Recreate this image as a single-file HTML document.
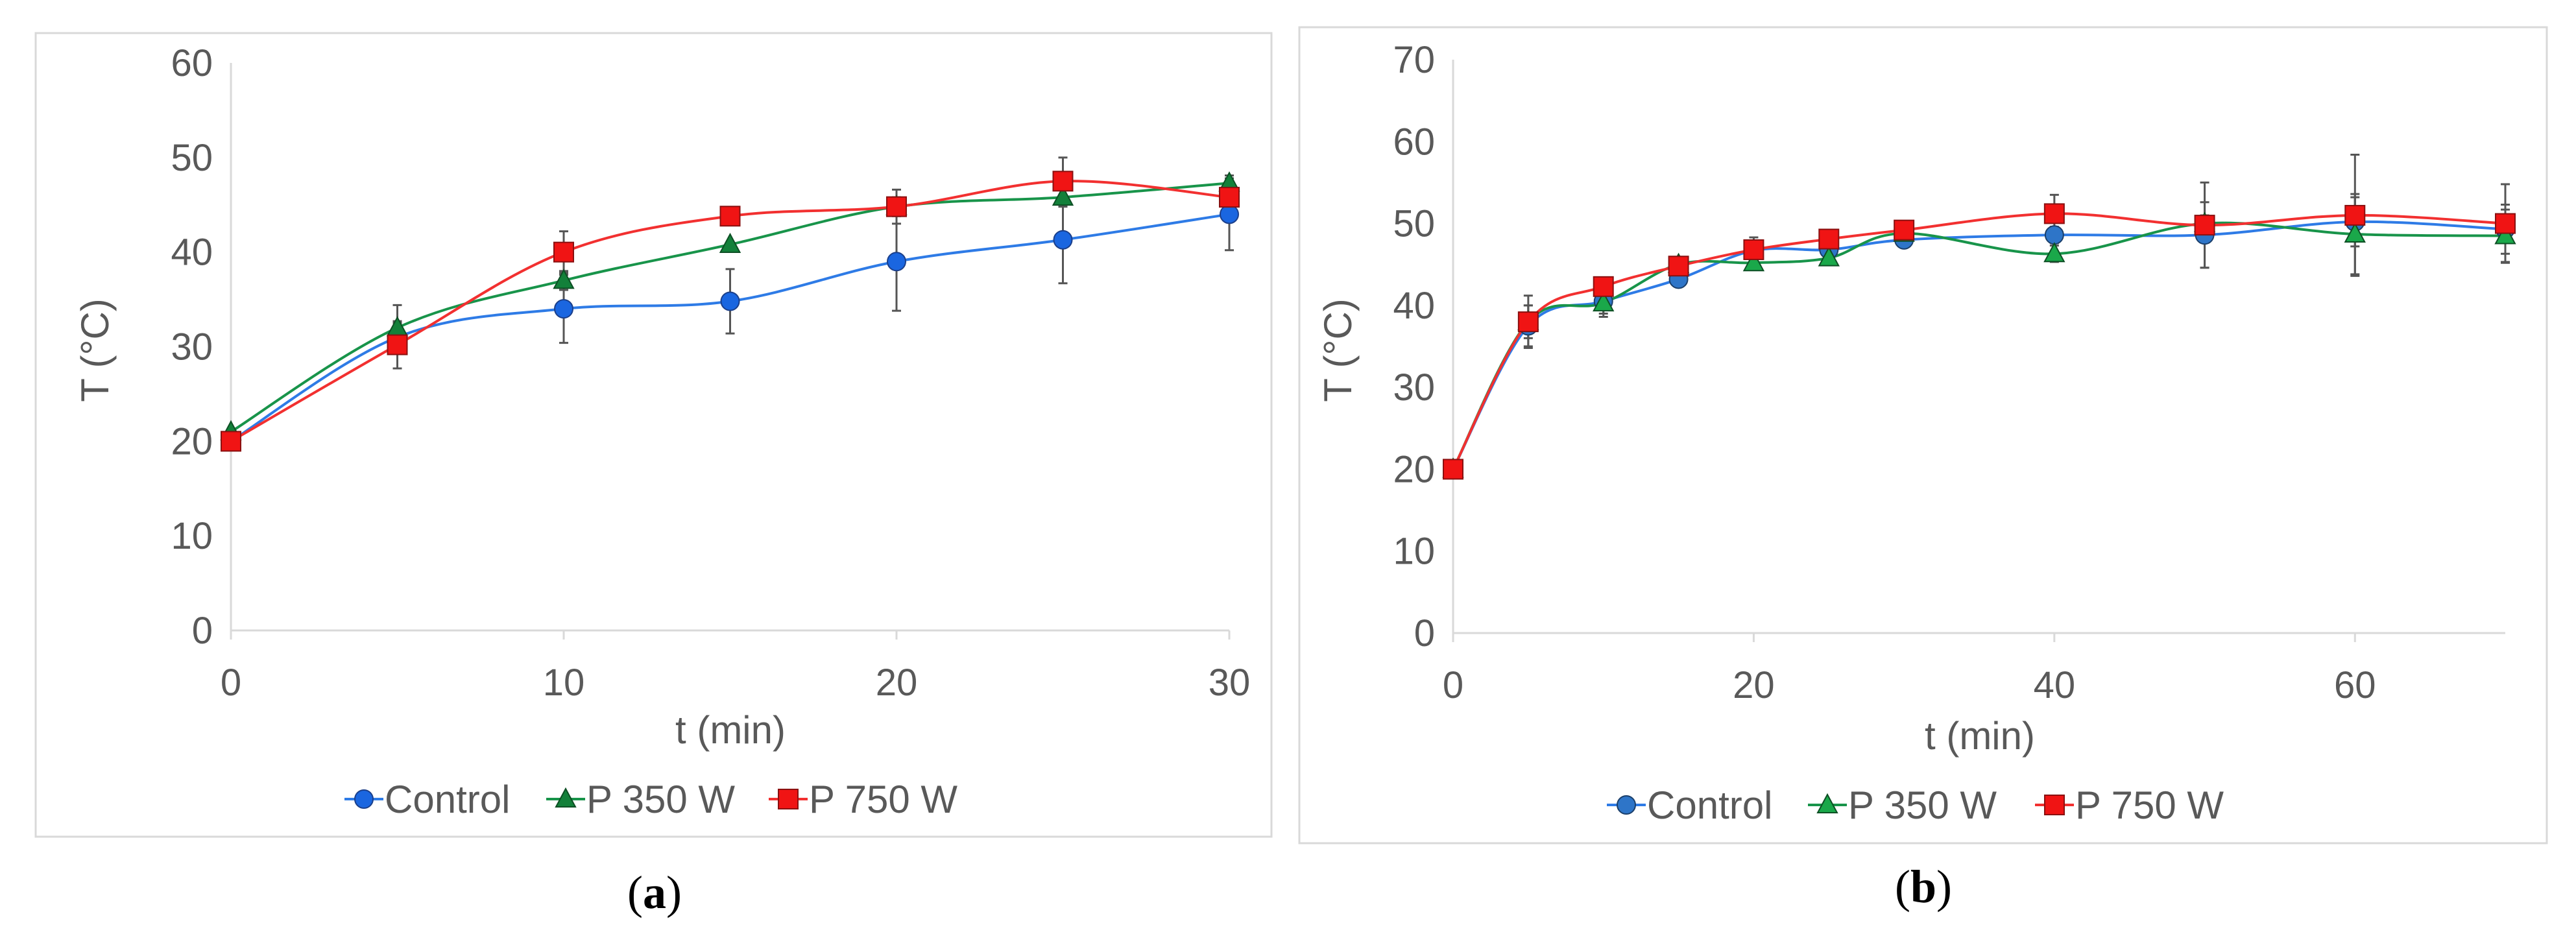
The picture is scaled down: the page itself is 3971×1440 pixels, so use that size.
<!DOCTYPE html>
<html><head><meta charset="utf-8"><style>
html,body{margin:0;padding:0;background:#fff;}
svg{display:block;font-family:"Liberation Sans",Arial,sans-serif;}
</style></head><body>
<svg id="fig" width="3971" height="1440" viewBox="0 0 3971 1440" xmlns="http://www.w3.org/2000/svg"></svg>
<script>
// ---- Panel (a) data ----
const timesA = [0,5,10,15,20,25,30];
const controlA = [20,31,34,34.8,39,41.3,44];
const p350A = [21,32,37,40.8,44.8,45.8,47.3];
const p750A = [20,30.2,40,43.8,44.8,47.5,45.8];
const errControlA = [0.5,1.5,3.6,3.4,5.2,4.6,3.8];
const errP350A = [0.5,2.4,1,0.5,1,1,0.8];
const errP750A = [0.5,2.5,2.2,0.5,1.8,2.5,0.8];
const yTicksA = [0,10,20,30,40,50,60];
const xTicksA = [0,10,20,30];
// ---- Panel (b) data ----
const timesB = [0,5,10,15,20,25,30,40,50,60,70];
const controlB = [20,37.5,40.5,43.2,46.7,46.8,48,48.6,48.6,50.2,49.3];
const p350B = [20,38,40.3,45,45.2,45.8,48.8,46.3,50,48.7,48.5];
const p750B = [20,38,42.3,44.8,46.8,48.1,49.2,51.2,49.8,51,50];
const errControlB = [0.3,2.5,1.5,0.8,1,1,0.7,1,4,3,3];
const errP350B = [0.3,2,1.7,0.8,0.8,0.8,0.6,1,1,4.9,3.2];
const errP750B = [0.3,3.2,0.8,0.8,1.5,1,0.6,2.3,5.2,7.4,4.8];
const yTicksB = [0,10,20,30,40,50,60,70];
const xTicksB = [0,20,40,60];

const NS="http://www.w3.org/2000/svg";
const svg=document.getElementById('fig');
function mk(tag,attrs,parent){const e=document.createElementNS(NS,tag);for(const k in attrs)e.setAttribute(k,attrs[k]);(parent||svg).appendChild(e);return e;}

function smoothPath(pts){
  let d=`M${pts[0][0]},${pts[0][1]}`;
  for(let i=0;i<pts.length-1;i++){
    const p0=pts[i-1]||pts[i],p1=pts[i],p2=pts[i+1],p3=pts[i+2]||p2;
    const t=0.17*1.0;
    const c1=[p1[0]+(p2[0]-p0[0])*t,p1[1]+(p2[1]-p0[1])*t];
    const c2=[p2[0]-(p3[0]-p1[0])*t,p2[1]-(p3[1]-p1[1])*t];
    d+=` C${c1[0]},${c1[1]} ${c2[0]},${c2[1]} ${p2[0]},${p2[1]}`;
  }
  return d;
}
function marker(g,type,x,y,fill,stroke,name){
  let m;
  if(type==='circle') m=mk('circle',{cx:x,cy:y,r:14,fill:fill,stroke:stroke,'stroke-width':2},g);
  else if(type==='tri') m=mk('polygon',{points:`${x},${y-16} ${x-15},${y+12} ${x+15},${y+12}`,fill:fill,stroke:stroke,'stroke-width':2},g);
  else m=mk('rect',{x:x-15,y:y-15,width:30,height:30,fill:fill,stroke:stroke,'stroke-width':2},g);
  
  
  return m;
}

function chart(cfg){
  const g=mk('g',{});
  
  
  const box=mk('rect',{x:cfg.box[0],y:cfg.box[1],width:cfg.box[2]-cfg.box[0],height:cfg.box[3]-cfg.box[1],fill:'#fff',stroke:'#d9d9d9','stroke-width':3},g);
  
  
  const xs=v=>cfg.x0+(v-0)/cfg.xmax*(cfg.x1-cfg.x0);
  const ys=v=>cfg.y0-(v/cfg.ymax)*(cfg.y0-cfg.y1);
  const ax=mk('line',{x1:cfg.x0,y1:cfg.y0,x2:cfg.x0,y2:cfg.y1,stroke:'#d9d9d9','stroke-width':3},g);
  
  
  const bx=mk('line',{x1:cfg.x0,y1:cfg.y0,x2:cfg.x1,y2:cfg.y0,stroke:'#d9d9d9','stroke-width':3},g);
  
  
  cfg.yTicks.forEach(v=>{
    const t=mk('text',{x:cfg.x0-28,y:ys(v)+20,'text-anchor':'end','font-size':58,fill:'#595959'},g);
    t.textContent=v;
    
    
  });
  cfg.xTicks.forEach(v=>{
    const tk=mk('line',{x1:xs(v),y1:cfg.y0,x2:xs(v),y2:cfg.y0+14,stroke:'#d9d9d9','stroke-width':3},g);
    
    
    const t=mk('text',{x:xs(v),y:cfg.y0+100,'text-anchor':'middle','font-size':58,fill:'#595959'},g);
    t.textContent=v;
    
    
  });
  const xt=mk('text',{x:cfg.xTitle[0],y:cfg.xTitle[1],'text-anchor':'middle','font-size':60,fill:'#595959'},g);
  xt.textContent='t (min)';
  
  
  const yt=mk('text',{x:0,y:0,'text-anchor':'middle','font-size':60,fill:'#595959',transform:`translate(${cfg.yTitle[0]},${cfg.yTitle[1]}) rotate(-90)`},g);
  yt.textContent='T (°C)';
  
  
  // error bars
  cfg.series.forEach(s=>{
    cfg.times.forEach((t,i)=>{
      const e=s.err[i]; if(e<0.6) return;
      const x=xs(t);
      const l=mk('path',{d:`M${x},${ys(s.vals[i]-e)}V${ys(s.vals[i]+e)}M${x-7},${ys(s.vals[i]-e)}h14M${x-7},${ys(s.vals[i]+e)}h14`,stroke:'#555','stroke-width':3,fill:'none'},g);
      
      
    });
  });
  cfg.series.forEach(s=>{
    const pts=cfg.times.map((t,i)=>[xs(t),ys(s.vals[i])]);
    const p=mk('path',{d:smoothPath(pts),stroke:s.line,'stroke-width':4,fill:'none'},g);
    
    
  });
  cfg.series.forEach(s=>{
    cfg.times.forEach((t,i)=>marker(g,s.type,xs(t),ys(s.vals[i]),s.fill,s.stroke,s.name+'-point'));
  });
  // legend
  cfg.series.forEach((s,i)=>{
    const lx=cfg.legend[i], ly=cfg.legendY;
    const lg=mk('g',{},g);
    
    
    mk('line',{x1:lx-30,y1:ly,x2:lx+30,y2:ly,stroke:s.line,'stroke-width':4},lg);
    marker(lg,s.type,lx,ly,s.fill,s.stroke,'legend-marker');
    const t=mk('text',{x:lx+32,y:ly+21,'font-size':60,fill:'#595959'},lg);
    t.textContent=s.label;
    
    
  });
  const cap=mk('text',{x:cfg.caption[0],y:cfg.caption[1]+25,'text-anchor':'middle','font-size':72,fill:'#000','font-family':'"Liberation Serif",serif'},g);
  cap.innerHTML='(<tspan font-weight="bold">'+cfg.capLetter+'</tspan>)';
  
  
}

chart({id:'chart-a',box:[55,51,1960,1290],x0:356,x1:1895,y0:972,y1:97,xmax:30,ymax:60,
  yTicks:yTicksA,xTicks:xTicksA,times:timesA,xTitle:[1126,1146],yTitle:[167,540],
  legend:[561,872,1215],legendY:1232,caption:[1009,1375],capLetter:'a',
  series:[
   {name:'control',label:'Control',vals:controlA,err:errControlA,type:'circle',fill:'#1a66e0',stroke:'#1b3f8a',line:'#2e7be6'},
   {name:'p350',label:'P 350 W',vals:p350A,err:errP350A,type:'tri',fill:'#13803a',stroke:'#0d4f24',line:'#18944a'},
   {name:'p750',label:'P 750 W',vals:p750A,err:errP750A,type:'square',fill:'#f01414',stroke:'#8a1010',line:'#f23030'}]});
chart({id:'chart-b',box:[2003,42,3926,1300],x0:2240,x1:3862,y0:976,y1:92,xmax:70,ymax:70,
  yTicks:yTicksB,xTicks:xTicksB,times:timesB,xTitle:[3052,1155],yTitle:[2083,540],
  legend:[2507,2817,3167],legendY:1241,caption:[2965,1366],capLetter:'b',
  series:[
   {name:'control',label:'Control',vals:controlB,err:errControlB,type:'circle',fill:'#2e75c8',stroke:'#1b3f6a',line:'#2e7be6'},
   {name:'p350',label:'P 350 W',vals:p350B,err:errP350B,type:'tri',fill:'#1aa84a',stroke:'#0d4f24',line:'#18944a'},
   {name:'p750',label:'P 750 W',vals:p750B,err:errP750B,type:'square',fill:'#f01414',stroke:'#8a1010',line:'#f23030'}]});
</script>
</body></html>
